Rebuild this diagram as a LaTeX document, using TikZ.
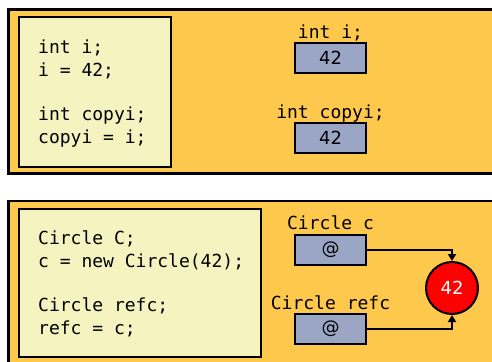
\documentclass[tikz,border=0pt]{standalone}
\usepackage{fontspec}
\setmainfont{DejaVu Sans}
\setmonofont{DejaVu Sans Mono}
\usetikzlibrary{arrows.meta}
\definecolor{panelorange}{RGB}{253,200,75}
\definecolor{codeyellow}{RGB}{245,244,192}
\definecolor{boxblue}{RGB}{155,166,197}
\definecolor{objred}{RGB}{255,0,0}
\tikzset{
  panel/.style={draw=black, fill=panelorange, line width=2.5pt},
  codebox/.style={draw=black, fill=codeyellow, line width=2pt},
  codeline/.style={anchor=base west, inner sep=0pt, font=\fontsize{18}{22}\selectfont\ttfamily},
  varlabel/.style={anchor=base, inner sep=0pt, font=\fontsize{18}{22}\selectfont\ttfamily},
  valbox/.style={draw=black, fill=boxblue, line width=2pt, minimum width=71pt, minimum height=30pt, inner sep=0pt, font=\fontsize{18}{22}\selectfont},
  obj/.style={circle, draw=black, fill=objred, line width=2pt, minimum size=52pt, inner sep=0pt, text=white, font=\fontsize{18}{22}\selectfont},
  refarrow/.style={draw=black, line width=2pt, -{Triangle[width=8pt,length=7pt]}}
}
\begin{document}
\begin{tikzpicture}[x=1pt,y=-1pt]
\useasboundingbox (0,0) rectangle (492,361);
\clip (0,0) rectangle (492,361);
% panels
\path[panel] (8.5,9.5) rectangle (510,173.5);
\path[panel] (8.5,201) rectangle (510,380);
\path[codebox] (18.5,17.5) rectangle (171,167);
\path[codebox] (18.5,209) rectangle (261,357);
% top code
\node[codeline] (t1) at (38,53) {int i;};
\node[codeline] (t2) at (38,76) {i = 42;};
\node[codeline] (t3) at (38,120) {int copyi;};
\node[codeline] (t4) at (38,143) {copyi = i;};
% top variables
\node[varlabel] (li) at (330.5,38) {int i;};
\node[valbox] (bi) at (330.5,58) {42};
\node[varlabel] (lci) at (330.5,118) {int copyi;};
\node[valbox] (bci) at (330.5,138) {42};
% bottom code
\node[codeline] (b1) at (38,244) {Circle C;};
\node[codeline] (b2) at (38,267) {c = new Circle(42);};
\node[codeline] (b3) at (38,311) {Circle refc;};
\node[codeline] (b4) at (38,334) {refc = c;};
% bottom variables
\node[varlabel] (lc) at (330.5,229) {Circle c};
\node[valbox] (bc) at (330.5,250) {@};
\node[varlabel] (lr) at (330.5,309) {Circle refc};
\node[valbox] (br) at (330.5,329) {@};
\node[obj] (o) at (452,288) {42};
\draw[refarrow] (bc.east) -| (o.north);
\draw[refarrow] (br.east) -| (o.south);
\end{tikzpicture}
\end{document}
